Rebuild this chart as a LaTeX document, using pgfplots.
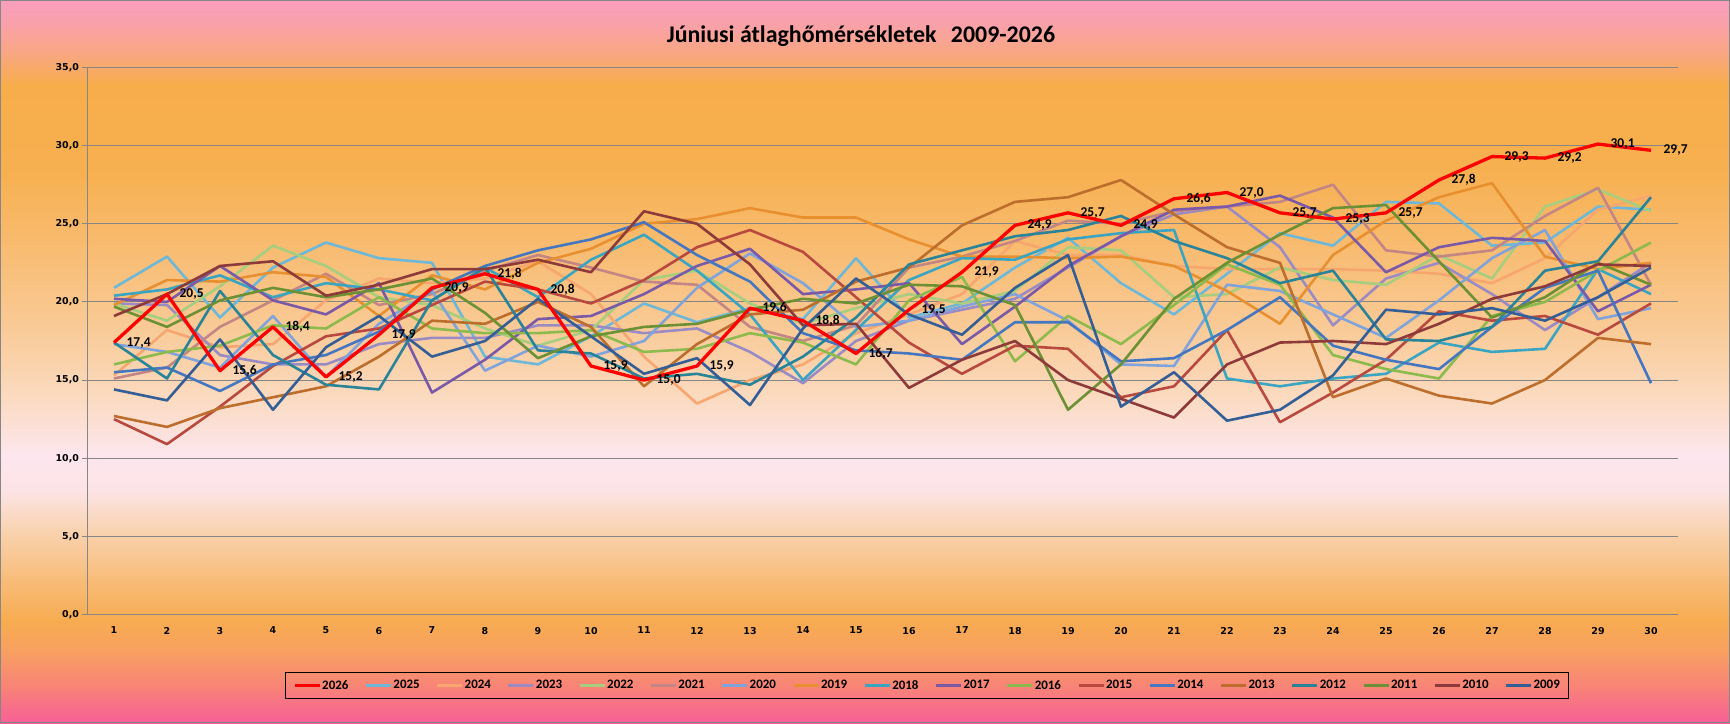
\documentclass[border=0pt]{standalone}
\usepackage{pgfplots}
\pgfplotsset{compat=1.18}
\usepackage{pgfplotstable}
\usepackage{fontspec}
\setmainfont{Carlito}
\newfontfamily\tickfont{DejaVu Sans}

\definecolor{c2026}{HTML}{FF0000}
\definecolor{c2025}{HTML}{6DB8D8}
\definecolor{c2024}{HTML}{F6A66E}
\definecolor{c2023}{HTML}{9A8BC4}
\definecolor{c2022}{HTML}{A6CE7E}
\definecolor{c2021}{HTML}{C48684}
\definecolor{c2020}{HTML}{7FA3DA}
\definecolor{c2019}{HTML}{E89030}
\definecolor{c2018}{HTML}{3AA5C2}
\definecolor{c2017}{HTML}{7A5AA8}
\definecolor{c2016}{HTML}{8CBA4C}
\definecolor{c2015}{HTML}{B9483F}
\definecolor{c2014}{HTML}{4577C0}
\definecolor{c2013}{HTML}{BD6E2C}
\definecolor{c2012}{HTML}{2A8499}
\definecolor{c2011}{HTML}{6C9034}
\definecolor{c2010}{HTML}{8E3A3A}
\definecolor{c2009}{HTML}{335E96}
\definecolor{axisgray}{HTML}{868686}

\definecolor{g00}{HTML}{F99EBF}
\definecolor{g25}{HTML}{F9A1A8}
\definecolor{g55}{HTML}{F8A77E}
\definecolor{g85}{HTML}{F7AD4A}
\definecolor{g170}{HTML}{F7B050}
\definecolor{g250}{HTML}{F8BC72}
\definecolor{g330}{HTML}{F9CB98}
\definecolor{g400}{HTML}{FBDBC2}
\definecolor{g455}{HTML}{FDE6EE}
\definecolor{g490}{HTML}{FCE3E6}
\definecolor{g530}{HTML}{F9D3B0}
\definecolor{g580}{HTML}{F8BC78}
\definecolor{g620}{HTML}{F7AC50}
\definecolor{g650}{HTML}{F8A060}
\definecolor{g690}{HTML}{F8807A}
\definecolor{g723}{HTML}{F85E98}

\newcommand{\bgseg}[4]{\shade[top color=#3, bottom color=#4] (0bp,{(723-#1+0.5)*1bp}) rectangle (1730bp,{(723-#2-0.5)*1bp});}

\pgfplotstableread{
day y2026 y2025 y2024 y2023 y2022 y2021 y2020 y2019 y2018 y2017 y2016 y2015 y2014 y2013 y2012 y2011 y2010 y2009
1  17.4 20.9 15.3 19.9 19.9 15.1 17.3 19.8 20.4 20.2 16.0 12.5 15.5 12.7 17.4 19.7 19.1 14.4
2  20.5 22.9 18.2 19.8 18.8 15.8 16.8 21.4 20.8 20.0 16.8 10.9 15.8 12.0 15.1 18.4 20.5 13.7
3  15.6 19.0 17.1 16.6 21.0 18.4 15.8 21.3 21.7 22.3 17.2 13.3 14.3 13.2 20.7 20.1 22.3 17.6
4  18.4 22.2 17.3 16.0 23.6 20.1 19.1 21.9 20.3 20.1 18.5 15.9 16.0 13.9 16.6 20.9 22.6 13.1
5  15.2 23.8 20.1 16.0 22.3 21.8 15.2 21.6 21.2 19.2 18.3 17.8 16.6 14.6 14.7 20.3 20.4 17.1
6  17.9 22.8 21.5 17.3 20.3 19.8 18.6 19.1 20.8 21.2 20.3 18.3 18.1 16.5 14.4 20.8 21.1 19.1
7  20.9 22.5 21.2 17.7 19.8 20.5 20.7 21.7 20.1 14.2 18.3 19.8 20.8 18.8 20.1 21.5 22.1 16.5
8  21.8 16.5 21.5 17.7 18.3 22.0 15.6 20.8 22.2 16.3 18.0 21.3 22.3 18.6 22.2 19.3 22.1 17.5
9  20.8 16.0 22.6 18.5 17.2 23.0 17.2 22.5 20.3 18.9 18.0 20.8 23.3 20.0 16.9 16.4 22.7 20.2
10 15.9 17.8 20.5 18.5 18.2 22.2 16.5 23.4 22.7 19.1 18.2 19.9 24.0 18.4 16.7 17.8 21.9 17.8
11 15.0 19.9 16.5 18.0 21.4 21.3 17.5 25.0 24.3 20.5 16.8 21.4 25.1 14.6 15.1 18.4 25.8 15.4
12 15.9 18.7 13.5 18.3 22.0 21.1 20.9 25.3 22.0 22.3 17.0 23.5 23.0 17.3 15.4 18.6 25.0 16.4
13 19.6 19.6 15.0 16.8 19.9 18.4 23.1 26.0 19.2 23.4 18.0 24.6 21.3 19.2 14.7 19.5 22.4 13.4
14 18.8 18.9 16.0 14.8 18.6 17.5 21.2 25.4 15.0 20.5 17.4 23.2 18.0 19.5 16.5 20.2 18.5 18.3
15 16.7 22.8 18.0 17.5 19.6 18.5 18.4 25.4 18.2 20.8 16.0 20.3 16.9 21.3 19.0 19.9 18.6 21.5
16 19.5 19.0 19.2 18.8 20.5 22.2 18.8 24.0 21.4 21.2 20.1 17.4 16.7 22.2 22.4 21.1 14.5 19.2
17 21.9 19.9 20.5 19.5 19.9 22.9 19.7 22.9 22.8 17.3 21.6 15.4 16.3 24.9 23.3 21.0 16.3 17.9
18 24.9 22.2 23.9 20.2 20.7 23.9 20.5 22.9 22.7 19.7 16.2 17.2 18.7 26.4 24.2 19.8 17.5 20.9
19 25.7 24.1 23.0 22.2 23.5 25.2 18.8 22.8 24.0 22.3 19.1 17.0 18.7 26.7 24.6 13.1 15.0 23.0
20 24.9 21.2 23.0 24.2 23.3 25.0 16.0 22.9 24.4 24.2 17.3 13.9 16.2 27.8 25.5 16.0 13.8 13.3
21 26.6 19.2 22.3 25.6 20.3 25.8 15.9 22.3 24.6 25.9 19.8 14.6 16.4 25.6 23.9 20.2 12.6 15.5
22 27.0 21.8 22.1 26.1 20.5 26.1 21.1 20.7 15.1 26.1 22.4 18.2 18.2 23.5 22.8 22.5 16.0 12.4
23 25.7 24.4 22.1 23.5 22.2 26.4 20.7 18.6 14.6 26.8 21.1 12.3 20.3 22.5 21.2 24.3 17.4 13.1
24 25.3 23.6 22.1 18.5 21.4 27.5 19.2 23.0 15.1 25.4 16.6 14.2 17.2 13.9 22.0 26.0 17.5 15.3
25 25.7 26.4 22.0 21.5 21.1 23.3 17.7 25.2 15.4 21.9 15.7 16.3 16.3 15.1 17.6 26.2 17.3 19.5
26 27.8 26.3 21.8 22.5 23.0 22.9 20.1 26.7 17.4 23.5 15.1 19.4 15.7 14.0 17.5 22.6 18.6 19.2
27 29.3 23.6 21.2 20.5 21.5 23.3 22.8 27.6 16.8 24.1 19.1 18.8 18.4 13.5 18.4 19.0 20.2 19.6
28 29.2 23.8 22.8 18.2 26.1 25.5 24.6 22.9 17.0 23.9 20.0 19.1 20.9 15.0 22.0 20.3 21.0 18.8
29 30.1 26.1 25.9 20.3 27.2 27.3 18.9 22.1 22.1 19.4 22.0 17.9 22.0 17.7 22.6 22.5 22.4 20.3
30 29.7 25.9 26.8 22.5 25.8 21.1 19.6 22.5 20.5 21.1 23.8 19.9 14.8 17.3 26.7 21.1 22.3 22.2
}\data

\begin{document}
\begin{tikzpicture}
\bgseg{0}{25}{g00}{g25}
\bgseg{25}{55}{g25}{g55}
\bgseg{55}{85}{g55}{g85}
\bgseg{85}{170}{g85}{g170}
\bgseg{170}{250}{g170}{g250}
\bgseg{250}{330}{g250}{g330}
\bgseg{330}{400}{g330}{g400}
\bgseg{400}{455}{g400}{g455}
\bgseg{455}{490}{g455}{g490}
\bgseg{490}{530}{g490}{g530}
\bgseg{530}{580}{g530}{g580}
\bgseg{580}{620}{g580}{g620}
\bgseg{620}{650}{g620}{g650}
\bgseg{650}{690}{g650}{g690}
\bgseg{690}{723}{g690}{g723}
\draw[axisgray, line width=1bp] (0.5bp,0.5bp) rectangle (1729.5bp,722.5bp);
\node[font=\bfseries\fontsize{24}{28}\selectfont] at (861bp,687bp) {Júniusi átlaghőmérsékletek\hspace{0.6em}2009-2026};

\begin{axis}[
  at={(87.5bp,109bp)}, anchor=south west,
  scale only axis, width=1590bp, height=547bp,
  xmin=0.5, xmax=30.5, ymin=0, ymax=35,
  xtick={1,...,30}, ytick={0,5,...,35},
  axis x line*=bottom, axis y line*=left,
  axis line style={draw=axisgray, line width=1bp, -},
  ymajorgrids, grid style={draw=axisgray, line width=1bp},
  tick align=outside, major tick length=5bp,
  xtick style={draw=none}, ytick style={draw=axisgray, line width=1bp},
  /pgf/number format/assume math mode=true,
  xticklabel style={font=\tickfont\bfseries\fontsize{9.5}{11}\selectfont, yshift=-4bp},
  yticklabel style={font=\tickfont\bfseries\fontsize{9.5}{11}\selectfont,
     /pgf/number format/fixed, /pgf/number format/fixed zerofill,
     /pgf/number format/precision=1, /pgf/number format/use comma},
  legend columns=18,
  legend style={at={(0.528,-0.1298)}, anchor=center, draw=black, line width=1bp,
     fill=none, font=\bfseries\fontsize{13}{15}\selectfont,
     inner xsep=8bp, inner ysep=5.5bp,
     nodes={inner xsep=1bp, inner ysep=2bp},
     /tikz/every odd column/.append style={column sep=0bp},
     /tikz/every even column/.append style={column sep=15bp}},
  legend cell align=left,
  legend image code/.code={\draw[#1, line width=3bp] (0bp,0bp) -- (25bp,0bp);},
  every axis plot/.append style={line width=2.6bp, line join=round, mark=none},
]
\addlegendimage{c2026, line width=3.3bp}
\addlegendentry{2026}
\addplot[c2025] table[x=day, y=y2025] {\data}; \addlegendentry{2025}
\addplot[c2024] table[x=day, y=y2024] {\data}; \addlegendentry{2024}
\addplot[c2023] table[x=day, y=y2023] {\data}; \addlegendentry{2023}
\addplot[c2022] table[x=day, y=y2022] {\data}; \addlegendentry{2022}
\addplot[c2021] table[x=day, y=y2021] {\data}; \addlegendentry{2021}
\addplot[c2020] table[x=day, y=y2020] {\data}; \addlegendentry{2020}
\addplot[c2019] table[x=day, y=y2019] {\data}; \addlegendentry{2019}
\addplot[c2018] table[x=day, y=y2018] {\data}; \addlegendentry{2018}
\addplot[c2017] table[x=day, y=y2017] {\data}; \addlegendentry{2017}
\addplot[c2016] table[x=day, y=y2016] {\data}; \addlegendentry{2016}
\addplot[c2015] table[x=day, y=y2015] {\data}; \addlegendentry{2015}
\addplot[c2014] table[x=day, y=y2014] {\data}; \addlegendentry{2014}
\addplot[c2013] table[x=day, y=y2013] {\data}; \addlegendentry{2013}
\addplot[c2012] table[x=day, y=y2012] {\data}; \addlegendentry{2012}
\addplot[c2011] table[x=day, y=y2011] {\data}; \addlegendentry{2011}
\addplot[c2010] table[x=day, y=y2010] {\data}; \addlegendentry{2010}
\addplot[c2009] table[x=day, y=y2009] {\data}; \addlegendentry{2009}
\addplot[c2026, line width=3.3bp, forget plot,
   nodes near coords={\pgfmathprintnumber[fixed, fixed zerofill, precision=1, use comma, assume math mode=true]{\pgfplotspointmeta}},
   every node near coord/.style={anchor=west, xshift=10bp, inner sep=1bp, text=black,
      font=\bfseries\fontsize{13.5}{15}\selectfont}]
   table[x=day, y=y2026] {\data};
\end{axis}
\end{tikzpicture}
\end{document}
